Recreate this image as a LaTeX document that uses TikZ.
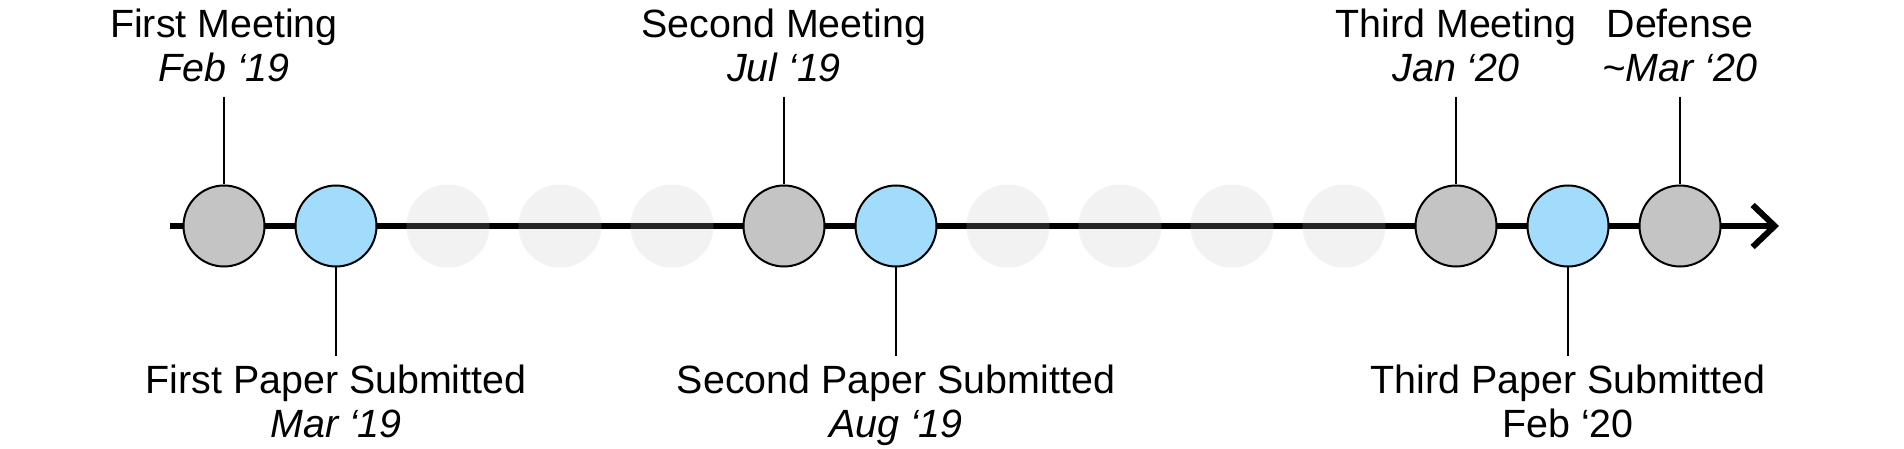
\documentclass[tikz,border=0pt]{standalone}
\usepackage{fontspec}
\setmainfont{Liberation Sans}
\usetikzlibrary{arrows.meta}
\definecolor{dotgray}{HTML}{C4C4C4}
\definecolor{dotblue}{HTML}{A1DCFD}
\definecolor{faint}{RGB}{190,190,190}
\begin{document}
\begin{tikzpicture}[x=1pt,y=-1pt,
  evt/.style={circle, draw=black, line width=2pt, minimum size=81pt, inner sep=0pt},
  meet/.style={evt, fill=dotgray},
  paper/.style={evt, fill=dotblue},
  ghost/.style={circle, fill=faint, fill opacity=0.2, draw=none, minimum size=83pt, inner sep=0pt},
  labfont/.style={font=\fontsize{39.4}{44}\selectfont},
  toplab/.style={labfont, anchor=south, align=center, inner xsep=0pt, inner ysep=15pt},
  botlab/.style={labfont, anchor=north, align=center, inner xsep=0pt, inner ysep=9pt},
  tick/.style={line width=2pt},
  axis/.style={line width=6pt, -{Straight Barb[length=22pt,width=42pt]}}]
\useasboundingbox (0,0) rectangle (1904,449);
\coordinate (start) at (170,226);
\coordinate (end) at (1779,226);
\draw[axis] (start) -- (end);
% faint placeholders
\foreach \i in {2,3,4,7,8,9,10}{
  \node[ghost] (g\i) at ({224+112*\i},226) {};
}
% events
\node[meet]  (c0)  at (224,226) {};
\node[paper] (c1)  at (336,226) {};
\node[meet]  (c5)  at (784,226) {};
\node[paper] (c6)  at (896,226) {};
\node[meet]  (c11) at (1456,226) {};
\node[paper] (c12) at (1568,226) {};
\node[meet]  (c13) at (1680,226) {};
% labels
\node[toplab] (l0)  at (224,97)  {First Meeting\\\textit{Feb ‘19}};
\node[toplab] (l5)  at (784,97)  {Second Meeting\\\textit{Jul ‘19}};
\node[toplab] (l11) at (1456,97) {Third Meeting\\\textit{Jan ‘20}};
\node[toplab] (l13) at (1680,97) {Defense\\\textit{\textasciitilde Mar ‘20}};
\node[botlab] (l1)  at (336,356)  {First Paper Submitted\\\textit{Mar ‘19}};
\node[botlab] (l6)  at (896,356)  {Second Paper Submitted\\\textit{Aug ‘19}};
\node[botlab] (l12) at (1568,356) {Third Paper Submitted\\Feb ‘20};
% connectors
\draw[tick] (l0.south) -- (c0.north);
\draw[tick] (l5.south) -- (c5.north);
\draw[tick] (l11.south) -- (c11.north);
\draw[tick] (l13.south) -- (c13.north);
\draw[tick] (c1.south) -- (l1.north);
\draw[tick] (c6.south) -- (l6.north);
\draw[tick] (c12.south) -- (l12.north);
\end{tikzpicture}
\end{document}
